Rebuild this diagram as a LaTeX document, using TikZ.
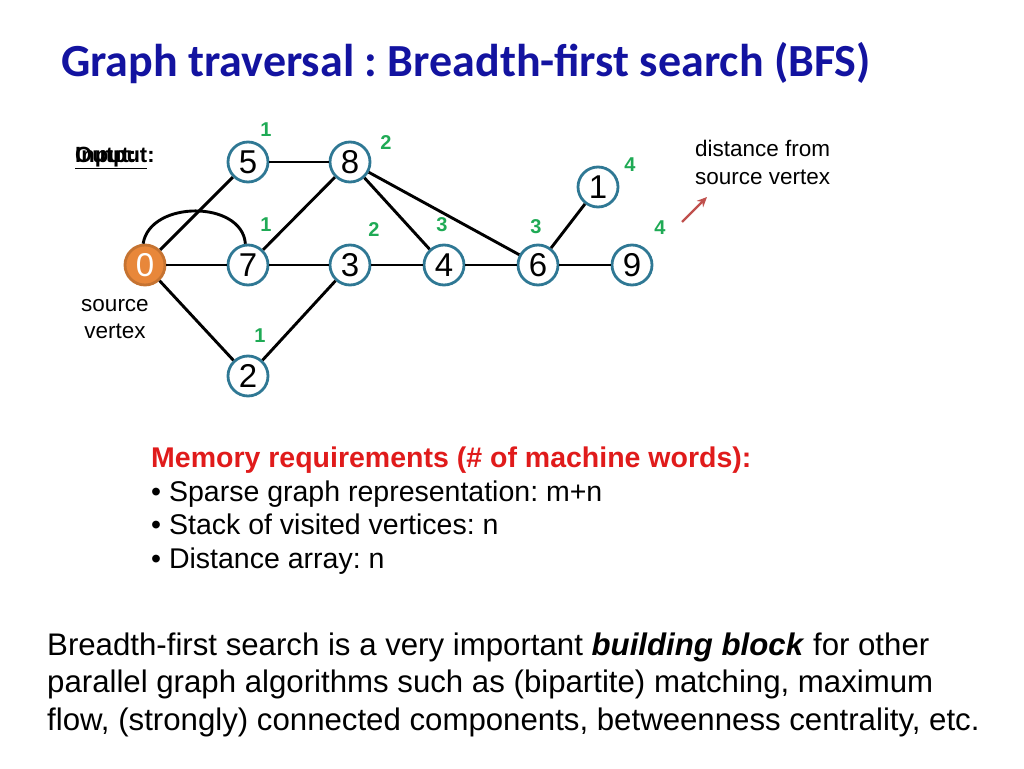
\documentclass[tikz,border=0pt]{standalone}
\usepackage{fontspec}
\setmainfont{Liberation Sans}
\newfontfamily\titlefont{Carlito}
\usetikzlibrary{arrows.meta}
\definecolor{titleblue}{HTML}{1313A0}
\definecolor{ringblue}{HTML}{2F7894}
\definecolor{srcorange}{HTML}{E8873A}
\definecolor{distgreen}{HTML}{1FAA55}
\definecolor{memred}{HTML}{E01B1B}
\definecolor{arrowred}{HTML}{C0504D}
\tikzset{
  vtx/.style={circle, draw=ringblue, line width=2.8pt, fill=white, minimum size=40pt, inner sep=0pt, font=\fontsize{33}{33}\selectfont},
  srcvtx/.style={vtx, fill=srcorange, draw=srcorange!85!black, text=white},
  edge/.style={line width=2.9pt, black},
  dist/.style={text=distgreen, font=\bfseries\fontsize{20}{20}\selectfont, inner sep=0pt},
  note/.style={font=\fontsize{22.5}{22.5}\selectfont, inner sep=0pt},
  memline/.style={anchor=base west, inner sep=0pt, font=\fontsize{28.5}{28.5}\selectfont},
  paraline/.style={anchor=base west, inner sep=0pt, font=\fontsize{31.2}{31.2}\selectfont},
  lbl/.style={anchor=base west, inner sep=0pt, font=\bfseries\fontsize{22}{22}\selectfont},
}
\begin{document}
\frenchspacing
\begin{tikzpicture}[x=1pt,y=-1pt]
\useasboundingbox (0,0) rectangle (1024,768);
% title
\node[anchor=base west, inner sep=0pt, text=titleblue, font=\titlefont\bfseries\fontsize{46}{46}\selectfont] (title) at (61,76) {Graph traversal : Breadth-first search (BFS)};
% output/input labels (superimposed as in the reference)
\node[lbl] (outlbl) at (75,162) {\underline{Output}:};
\node[lbl] (inlbl) at (75,162) {\underline{Input}:};
% vertices
\node[srcvtx] (n0) at (145,265) {0};
\node[vtx] (n5) at (248,162) {5};
\node[vtx] (n8) at (350,162) {8};
\node[vtx] (n7) at (248,265) {7};
\node[vtx] (n3) at (350,265) {3};
\node[vtx] (n4) at (444,265) {4};
\node[vtx] (n6) at (538,265) {6};
\node[vtx] (n9) at (632,265) {9};
\node[vtx] (n1) at (598,187) {1};
\node[vtx] (n2) at (248,376) {2};
% edges
\draw[edge] (n0) -- (n5);
\draw[edge] (n0) -- (n7);
\draw[edge] (n0) -- (n2);
\draw[edge] (n0.95) .. controls (150,200) and (242,200) .. (n7.97);
\draw[edge] (n5) -- (n8);
\draw[edge] (n7) -- (n8);
\draw[edge] (n7) -- (n3);
\draw[edge] (n3) -- (n2);
\draw[edge] (n3) -- (n4);
\draw[edge] (n8) -- (n4);
\draw[edge] (n8) -- (n6);
\draw[edge] (n4) -- (n6);
\draw[edge] (n6) -- (n1);
\draw[edge] (n6) -- (n9);
% distances
\node[dist] (d5) at (266,130) {1};
\node[dist] (d8) at (386,143) {2};
\node[dist] (d7) at (266,225) {1};
\node[dist] (d3) at (374,230) {2};
\node[dist] (d4) at (442,225) {3};
\node[dist] (d6) at (536,227) {3};
\node[dist] (d1) at (630,165) {4};
\node[dist] (d9) at (660,228) {4};
\node[dist] (d2) at (260,336) {1};
% notes
\node[note, anchor=base] (src1) at (115,311) {source};
\node[note, anchor=base] (src2) at (115,338) {vertex};
\node[note, anchor=base west] (dn1) at (695,156) {distance from};
\node[note, anchor=base west] (dn2) at (695,184) {source vertex};
\coordinate (arrS) at (682,222);
\coordinate (arrE) at (707,197);
\draw[arrowred, line width=2.2pt, -{Stealth[length=10pt,width=9pt]}] (arrS) -- (arrE);
% memory block
\node[memline, text=memred, font=\bfseries\fontsize{28.5}{28.5}\selectfont] (mem0) at (151,467) {Memory requirements (\# of machine words):};
\node[memline] (mem1) at (151,501) {\textbullet\ Sparse graph representation: m+n};
\node[memline] (mem2) at (151,534) {\textbullet\ Stack of visited vertices: n};
\node[memline] (mem3) at (151,568) {\textbullet\ Distance array: n};
% bottom paragraph
\node[paraline] (p1) at (47,655) {Breadth-first search is a very important \textbf{\textit{building block}} for other};
\node[paraline] (p2) at (47,692.5) {parallel graph algorithms such as (bipartite) matching, maximum};
\node[paraline] (p3) at (47,730) {flow, (strongly) connected components, betweenness centrality, etc.};
\end{tikzpicture}
\end{document}
